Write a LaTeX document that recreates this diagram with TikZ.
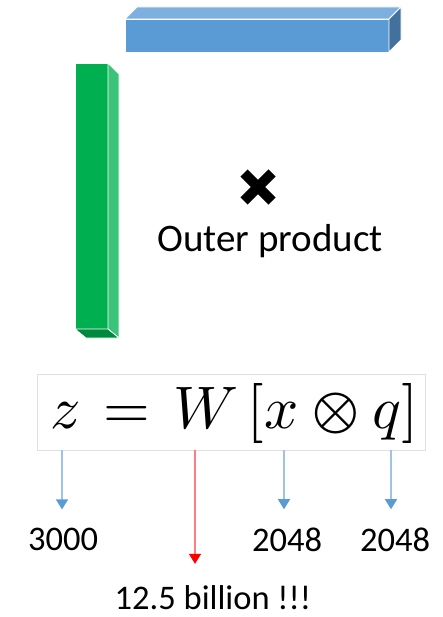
\documentclass[tikz,border=0pt]{standalone}
\usepackage{fontspec}
\usepackage{unicode-math}
\setmainfont{Carlito}
\setmathfont{Latin Modern Math}
\usetikzlibrary{arrows.meta, positioning}
\definecolor{barblue}{HTML}{5B9BD5}
\definecolor{bluetop}{HTML}{7DB0DE}
\definecolor{blueside}{HTML}{41719C}
\definecolor{bargreen}{HTML}{00B050}
\definecolor{greenside}{HTML}{3CC37A}
\definecolor{greenbot}{HTML}{00883F}
\definecolor{lineblue}{HTML}{9DC3E6}
\definecolor{tipblue}{HTML}{5B9BD5}
\definecolor{linered}{HTML}{FF7C80}

\begin{document}
\begin{tikzpicture}[x=1pt, y=-1pt,
  face/.style={draw=white, line width=0.8pt, line join=round},
  lbl/.style={font=\fontsize{34.5}{36}\selectfont, inner sep=0pt, anchor=base},
  arr/.style={-{Triangle[length=10pt, width=12pt, color=tipblue]}, lineblue,
              line width=1.4pt, shorten >=18pt},
  redarr/.style={-{Triangle[length=10pt, width=12pt, color=red]}, linered,
              line width=1.4pt, shorten >=21pt}
]
  \useasboundingbox (0,0) rectangle (442,617);

  % Vectors
  \fill[face, fill=barblue] (125,19) rectangle (389,52);
  \fill[face, fill=bluetop] (125,19) -- (137,7) -- (401,7) -- (389,19) -- cycle;
  \fill[face, fill=blueside] (389,19) -- (401,7) -- (401,40) -- (389,52) -- cycle;

  \fill[face, fill=bargreen] (75,63) rectangle (108,329);
  \fill[face, fill=greenside] (108,63) -- (119,74) -- (119,338) -- (108,329) -- cycle;
  \fill[face, fill=greenbot] (75,329) -- (108,329) -- (119,338) -- (86,338) -- cycle;

  % Outer product sign
  \draw[line width=10pt] (244,173) -- (272,201);
  \draw[line width=10pt] (272,173) -- (244,201);
  \node[font=\fontsize{39}{41}\selectfont] (outer) at (270,241) {Outer product};

  % Formula
  \node[draw=gray!25, line width=1pt, minimum width=388pt, minimum height=76pt,
        inner sep=0pt] (eqbox) at (231,412) {};
  \node[anchor=base, inner sep=0pt, font=\fontsize{60}{64}\selectfont] (eq) at (234,428)
    {$z\mkern2mu=\mkern2mu W\,[x\otimes q]$};

  \coordinate (zs) at (62,450);
  \coordinate (ws) at (195,450);
  \coordinate (xs) at (284,450);
  \coordinate (qs) at (391,450);

  \node[lbl] (n3000) at (63,550) {3000};
  \node[lbl] (n2048a) at (287,551) {2048};
  \node[lbl] (n2048b) at (395,551) {2048};
  \node[lbl] (nbillion) at (213,609) {12.5 billion !!!};

  \draw[arr] (zs) -- (zs |- n3000.north);
  \draw[redarr] (ws) -- (ws |- nbillion.north);
  \draw[arr] (xs) -- (xs |- n2048a.north);
  \draw[arr] (qs) -- (qs |- n2048b.north);
\end{tikzpicture}
\end{document}
